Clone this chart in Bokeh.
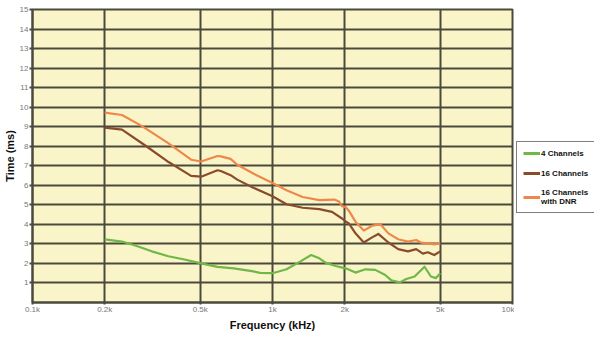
from bokeh.plotting import figure
from bokeh.models import FixedTicker, Legend, LegendItem, Range1d
from bokeh.layouts import row
from bokeh.embed import file_html
from bokeh.resources import INLINE

# ---- data (frequency in kHz, time in ms) ----
freq_4ch = [0.2, 0.236, 0.268, 0.314, 0.368, 0.43, 0.504, 0.59, 0.69, 0.808, 0.889, 1.0,
            1.144, 1.297, 1.449, 1.567, 1.67, 1.835, 2.017, 2.217, 2.44, 2.68, 2.94, 3.13,
            3.39, 3.61, 3.91, 4.30, 4.57, 4.80, 5.0]
time_4ch = [3.23, 3.12, 2.92, 2.62, 2.37, 2.2, 2.0, 1.82, 1.75, 1.62, 1.52, 1.5,
            1.7, 2.08, 2.43, 2.26, 2.03, 1.87, 1.75, 1.53, 1.7, 1.67, 1.42, 1.13,
            1.03, 1.2, 1.33, 1.83, 1.33, 1.25, 1.5]

freq_16ch = [0.2, 0.236, 0.294, 0.369, 0.458, 0.504, 0.59, 0.609, 0.669, 0.713, 0.832, 1.0,
             1.144, 1.335, 1.567, 1.77, 1.948, 2.017, 2.08, 2.217, 2.40, 2.59, 2.76, 3.04,
             3.34, 3.67, 3.97, 4.23, 4.44, 4.72, 5.0]
time_16ch = [8.95, 8.85, 8.05, 7.19, 6.48, 6.44, 6.77, 6.73, 6.52, 6.29, 5.88, 5.44,
             5.03, 4.85, 4.78, 4.64, 4.3, 4.15, 4.05, 3.54, 3.07, 3.32, 3.51, 3.07,
             2.73, 2.62, 2.73, 2.5, 2.57, 2.43, 2.62]

freq_dnr = [0.2, 0.236, 0.286, 0.369, 0.458, 0.504, 0.59, 0.609, 0.669, 0.713, 0.832, 1.0,
            1.144, 1.335, 1.567, 1.81, 1.893, 1.948, 2.02, 2.08, 2.217, 2.40, 2.59, 2.81,
            3.04, 3.34, 3.67, 3.97, 4.15, 4.44, 4.72, 5.0]
time_dnr = [9.72, 9.6, 9.03, 8.15, 7.31, 7.22, 7.5, 7.48, 7.35, 7.05, 6.6, 6.12,
            5.75, 5.4, 5.24, 5.27, 5.17, 4.93, 4.88, 4.7, 4.14, 3.68, 3.92, 4.02,
            3.54, 3.24, 3.12, 3.2, 3.07, 3.03, 2.98, 3.03]

x_ticks = [0.1, 0.2, 0.5, 1, 2, 5, 10]
x_tick_labels = ["0.1k", "0.2k", "0.5k", "1k", "2k", "5k", "10k"]
y_ticks = list(range(1, 16))

series_names = ["4 Channels", "16 Channels", "16 Channels\nwith DNR"]
series_colors = ["#6fb747", "#8a4b2c", "#f0874a"]
series_freq = [freq_4ch, freq_16ch, freq_dnr]
series_time = [time_4ch, time_16ch, time_dnr]

FONT = "Liberation Sans"
GRID = "#4a4a3c"

p = figure(frame_width=480, frame_height=293, x_axis_type="log", x_range=(0.1, 10), y_range=(0, 15),
           output_backend="svg", toolbar_location=None,
           min_border_left=2, min_border_right=2, min_border_top=9, min_border_bottom=2)

p.background_fill_color = "#faf5c9"
p.border_fill_color = "white"
p.outline_line_color = GRID
p.outline_line_width = 2

for fx, ty, c in zip(series_freq, series_time, series_colors):
    p.line(fx, ty, line_color=c, line_width=2.2, line_join="round")

p.xaxis.ticker = FixedTicker(ticks=x_ticks)
p.xaxis.major_label_overrides = {t: l for t, l in zip(x_ticks, x_tick_labels)}
p.yaxis.ticker = FixedTicker(ticks=y_ticks)

for ax in (p.xaxis[0], p.yaxis[0]):
    ax.axis_line_color = GRID
    ax.axis_line_width = 2
    ax.major_tick_line_color = GRID
    ax.major_tick_line_width = 2
    ax.major_tick_out = 3
    ax.major_tick_in = 0
    ax.minor_tick_line_color = None
    ax.major_label_text_font = FONT
    ax.major_label_text_font_size = "8px"
    ax.major_label_text_color = "#777777"
    ax.axis_label_text_font = FONT
    ax.axis_label_text_font_style = "bold"
    ax.axis_label_text_font_size = "11px"
    ax.axis_label_text_color = "#111111"

p.xaxis.axis_label = "Frequency (kHz)"
p.xaxis.major_tick_out = 2
p.xaxis.major_label_standoff = 0
p.xaxis.axis_label_standoff = 2
p.yaxis.axis_label = "Time (ms)"
p.yaxis.major_label_standoff = 1
p.yaxis.axis_label_standoff = 1

for g in (p.xgrid[0], p.ygrid[0]):
    g.grid_line_color = GRID
    g.grid_line_width = 2
    g.grid_line_alpha = 1.0
p.xgrid.ticker = FixedTicker(ticks=x_ticks)
p.ygrid.ticker = FixedTicker(ticks=y_ticks)

# ---- legend panel (separate narrow figure; its sample lines lie outside its ranges) ----
leg_fig = figure(width=80, height=320, x_range=Range1d(100, 101), y_range=Range1d(100, 101),
                 output_backend="svg", toolbar_location=None,
                 x_axis_location=None, y_axis_location=None,
                 min_border=0, min_border_left=0, min_border_right=0,
                 min_border_top=0, min_border_bottom=0)
leg_fig.grid.visible = False
leg_fig.outline_line_color = None
leg_fig.background_fill_color = "white"
leg_fig.border_fill_color = "white"

items = []
for fx, ty, c, name in zip(series_freq, series_time, series_colors, series_names):
    r = leg_fig.line(fx, ty, line_color=c, line_width=3)
    items.append(LegendItem(label=name, renderers=[r]))

legend = Legend(items=items, location=(2, 76))
legend.label_text_font = FONT
legend.label_text_font_size = "8px"
legend.label_text_font_style = "bold"
legend.label_text_color = "#111111"
legend.label_standoff = 1
legend.glyph_width = 17
legend.glyph_height = 10
legend.spacing = 10
legend.padding = 6
legend.margin = 0
legend.border_line_color = "black"
legend.border_line_width = 1
legend.background_fill_color = "white"
leg_fig.add_layout(legend, "center")

layout = row(p, leg_fig)
open("out.html", "w").write(file_html(layout, INLINE))
